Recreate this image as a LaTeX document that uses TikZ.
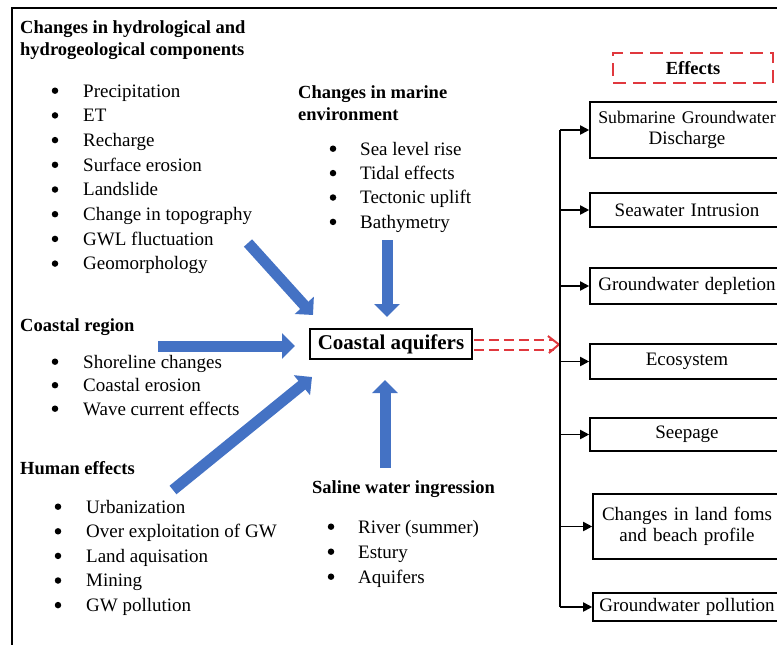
\documentclass[tikz,border=0pt]{standalone}
\usepackage{fontspec}
\setmainfont{Liberation Serif}
\newfontfamily\tnr{Liberation Serif}
\usetikzlibrary{arrows.meta,calc}
\definecolor{arrowblue}{HTML}{4472C4}
\definecolor{effred}{HTML}{E0383E}
\begin{document}
\begin{tikzpicture}[x=1pt,y=-1pt,
  head/.style={anchor=base west, inner sep=0pt, font=\tnr\fontsize{18.5}{21}\selectfont\bfseries},
  itm/.style={anchor=base west, inner sep=0pt, font=\tnr\fontsize{19}{23}\selectfont},
  bul/.style={circle, fill, inner sep=0pt, minimum size=6.5pt},
  bigarrow/.style={line width=11pt, draw=arrowblue, -{Triangle[length=13pt,width=25pt]}},
  ebox/.style={draw, line width=1.6pt, inner xsep=0pt, inner ysep=2pt, align=center, font=\tnr\fontsize{19}{21}\selectfont},
  link/.style={line width=1.8pt, -{Triangle[length=9pt,width=9pt]}},
  reddash/.style={draw=effred, line width=2pt, dash pattern=on 10pt off 5pt},
]
\useasboundingbox (0,0) rectangle (777,645);
\clip (0,0) rectangle (777,645);
% outer frame
\draw[line width=1.6pt] (12,700) -- (12,8) -- (800,8);

% group 1
\node[head] (g1a) at (20,34) {Changes in hydrological and};
\node[head] (g1b) at (20,55) {hydrogeological components};
\foreach \t [count=\i] in {Precipitation,ET,Recharge,Surface erosion,Landslide,Change in topography,GWL fluctuation,Geomorphology}{
  \node[bul] (ab\i) at (55,{97+24.7*(\i-1)-6.3}) {};
  \node[itm] (at\i) at (83,{97+24.7*(\i-1)}) {\t};
}

% group 2
\node[head] (g2a) at (298,98) {Changes in marine};
\node[head] (g2b) at (298,120) {environment};
\foreach \t [count=\i] in {Sea level rise,Tidal effects,Tectonic uplift,Bathymetry}{
  \node[bul] (bb\i) at (333,{155+24.4*(\i-1)-6.3}) {};
  \node[itm] (bt\i) at (360,{155+24.4*(\i-1)}) {\t};
}

% group 3
\node[head] (g3) at (20,331) {Coastal region};
\foreach \t [count=\i] in {Shoreline changes,Coastal erosion,Wave current effects}{
  \node[bul] (cb\i) at (55,{368+23.5*(\i-1)-6.3}) {};
  \node[itm] (ct\i) at (83,{368+23.5*(\i-1)}) {\t};
}

% group 4
\node[head] (g4) at (20,474) {Human effects};
\foreach \t [count=\i] in {Urbanization,Over exploitation of GW,Land aquisation,Mining,GW pollution}{
  \node[bul] (db\i) at (58,{513+24.6*(\i-1)-6.3}) {};
  \node[itm] (dt\i) at (86,{513+24.6*(\i-1)}) {\t};
}

% group 5
\node[head] (g5) at (312,493) {Saline water ingression};
\foreach \t [count=\i] in {River (summer),Estury,Aquifers}{
  \node[bul] (eb\i) at (331,{533+25*(\i-1)-6.3}) {};
  \node[itm] (et\i) at (358,{533+25*(\i-1)}) {\t};
}

% central node
\node[draw, line width=1.8pt, minimum width=162pt, minimum height=30pt, inner sep=0pt,
      font=\tnr\fontsize{21}{24}\selectfont\bfseries] (ca) at (391,344) {Coastal aquifers};

% blue arrows
\coordinate (a1s) at (248,243); \coordinate (a1e) at (313,315);
\coordinate (a2s) at (387,240); \coordinate (a2e) at (387,317);
\coordinate (a3s) at (158,346); \coordinate (a3e) at (295,346);
\coordinate (a4s) at (173,490); \coordinate (a4e) at (312,377);
\coordinate (a5s) at (385,468); \coordinate (a5e) at (385,380);
\foreach \k in {1,...,5}{\draw[bigarrow] (a\k s) -- (a\k e);}

% red dashed double arrow
\draw[reddash] ($(ca.east)+(1,-4.5)$) -- ($(ca.east)+(81,-4.5)$);
\draw[reddash] ($(ca.east)+(1,6)$) -- ($(ca.east)+(81,6)$);
\draw[draw=effred, line width=2pt] ($(ca.east)+(75,-8)$) -- ($(ca.east)+(86,0.5)$) -- ($(ca.east)+(76,9)$);

% effects header
\node[draw=effred, line width=1.8pt, dash pattern=on 13pt off 7pt, minimum width=160pt, minimum height=30pt,
      inner sep=0pt, font=\tnr\fontsize{18.5}{21}\selectfont\bfseries] (eff) at (693,68) {Effects};

% effect boxes (they run past the right edge, as in the reference)
\node[ebox, text width=194pt, minimum height=56pt] (e1) at (687,130) {{\fontsize{17.8}{21}\selectfont Submarine Groundwater}\\Discharge};
\node[ebox, text width=194pt, minimum height=34pt] (e2) at (687,210) {Seawater Intrusion};
\node[ebox, text width=194pt, minimum height=36pt] (e3) at (687,286) {Groundwater depletion};
\node[ebox, text width=194pt, minimum height=35pt] (e4) at (687,361.5) {Ecosystem};
\node[ebox, text width=194pt, minimum height=33pt] (e5) at (687,434.5) {Seepage};
\node[ebox, text width=188pt, minimum height=65pt] (e6) at (687,526.5) {Changes in land foms\\and beach profile};
\node[ebox, text width=188pt, minimum height=28pt] (e7) at (687,607) {Groundwater pollution};

% spine and links
\coordinate (sp) at (560,0);
\draw[line width=1.8pt] (sp |- e1.west) -- (sp |- e7.west);
\foreach \k in {1,...,7}{\draw[link] (sp |- e\k.west) -- (e\k.west);}
\end{tikzpicture}
\end{document}
